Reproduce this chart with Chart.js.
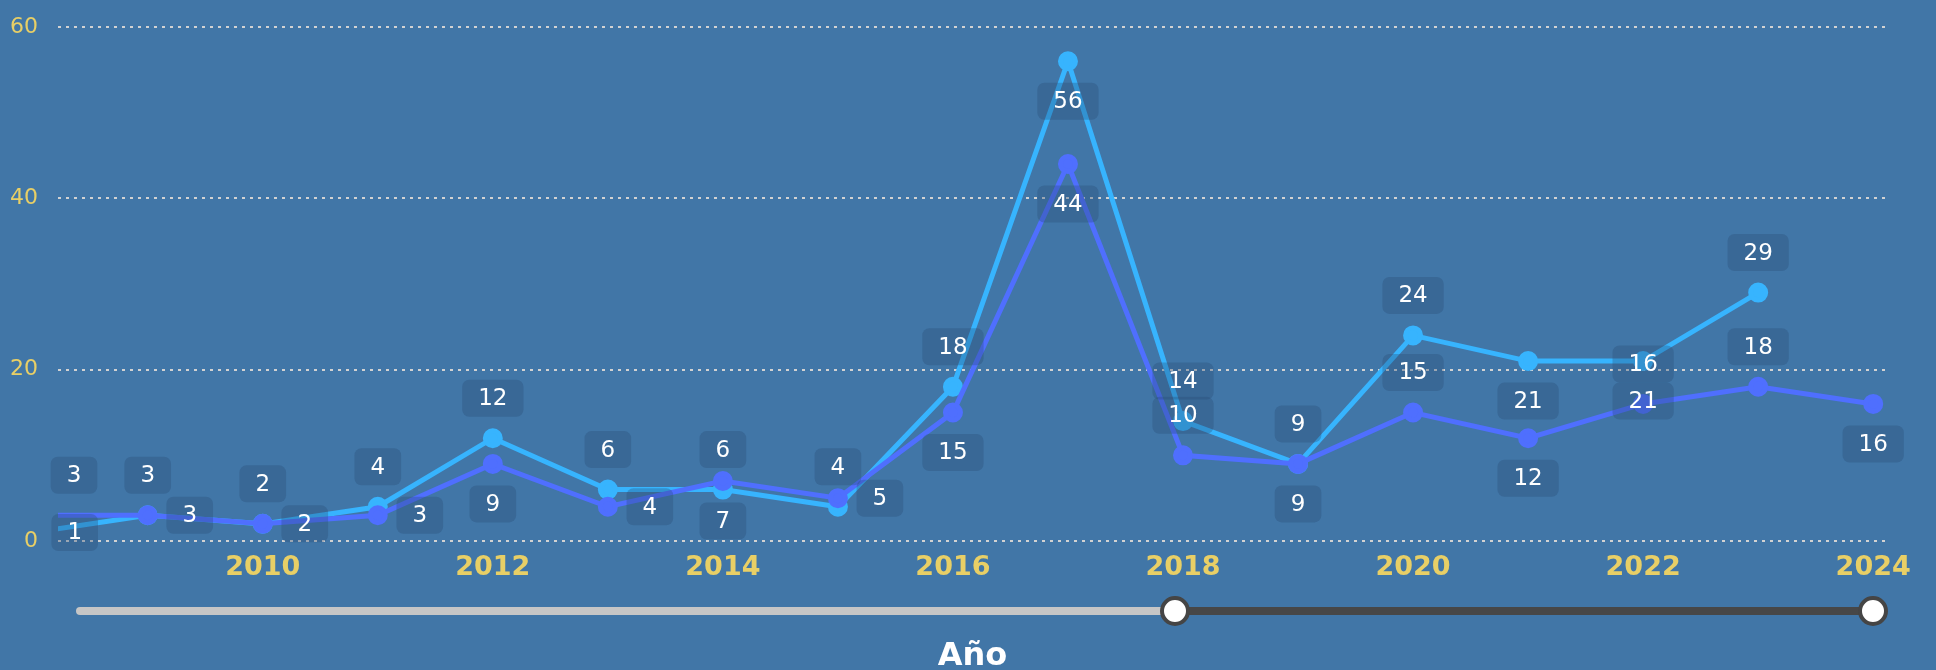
<!DOCTYPE html>
<html lang="es">
<head>
  <meta charset="UTF-8">
  <title>Casos por año</title>
  <script src="https://cdn.jsdelivr.net/npm/chart.js"></script>
  <style>
    html, body { margin: 0; padding: 0; background: #4176a7; }
    #wrap { width: 1936px; height: 670px; position: relative; }
  </style>
</head>
<body>
<div id="wrap"><canvas id="grafico"></canvas></div>
<script>
// datos
const anios = [2008, 2009, 2010, 2011, 2012, 2013, 2014, 2015, 2016, 2017, 2018, 2019, 2020, 2021, 2022, 2023, 2024];
const serieClara = [1, 3, 2, 4, 12, 6, 6, 4, 18, 56, 14, 9, 24, 21, 21, 29, null];
const serieOscura = [3, 3, 2, 3, 9, 4, 7, 5, 15, 44, 10, 9, 15, 12, 16, 18, 16];
const ticksX = [2010, 2012, 2014, 2016, 2018, 2020, 2022, 2024];
const ticksY = [0, 20, 40, 60];

// donde va cada etiqueta: a = arriba, b = abajo, r = derecha
const posClara = ['r','a','a','a','a','a','a','a','a','b','a','a','a','b','b','a', null];
const posOscura = ['a','r','r','r','b','r','b','r','b','b','a','b','a','b','a','a','b'];

const amarillo = '#e8cf66';
const fuente = '"DejaVu Sans", Verdana, sans-serif';

const etiquetas = {
  id: 'etiquetas',
  afterDatasetsDraw(chart) {
    const ctx = chart.ctx;
    const izq = chart.chartArea.left + 16;
    ctx.save();
    ctx.font = '23px ' + fuente;
    ctx.textAlign = 'center';
    ctx.textBaseline = 'middle';
    chart.data.datasets.forEach((ds, di) => {
      const meta = chart.getDatasetMeta(di);
      meta.data.forEach((pt, i) => {
        const v = ds.data[i].y;
        if (v == null) return;
        let x = pt.x, y = pt.y;
        const p = ds.posEtiqueta[i];
        if (p === 'a') y -= 40;
        else if (p === 'b') y += 40;
        else x += 42;
        x = Math.max(x, izq); // no salir por la izquierda
        const txt = String(v);
        const w = ctx.measureText(txt).width + 32, h = 37;
        ctx.fillStyle = 'rgba(40, 75, 115, 0.32)';
        ctx.beginPath();
        ctx.roundRect(x - w / 2, y - h / 2, w, h, 7);
        ctx.fill();
        ctx.fillStyle = '#ffffff';
        ctx.fillText(txt, x, y + 1);
      });
    });
    ctx.restore();
  }
};

// barra deslizante de abajo (solo decorativa)
const deslizador = {
  id: 'deslizador',
  afterDraw(chart) {
    const ctx = chart.ctx;
    const y = 611, x0 = 80, xm = 1175, x1 = 1873;
    ctx.save();
    ctx.lineCap = 'round';
    ctx.lineWidth = 8;
    ctx.strokeStyle = '#c6c6c6';
    ctx.beginPath(); ctx.moveTo(x0, y); ctx.lineTo(xm, y); ctx.stroke();
    ctx.strokeStyle = '#474747';
    ctx.beginPath(); ctx.moveTo(xm, y); ctx.lineTo(x1, y); ctx.stroke();
    [xm, x1].forEach(x => {
      ctx.beginPath();
      ctx.arc(x, y, 13, 0, Math.PI * 2);
      ctx.fillStyle = '#ffffff';
      ctx.fill();
      ctx.lineWidth = 4;
      ctx.strokeStyle = '#454545';
      ctx.stroke();
    });
    ctx.restore();
  }
};

const aPuntos = serie => anios.map((a, i) => ({ x: a, y: serie[i] }));

new Chart(document.getElementById('grafico'), {
  type: 'line',
  data: {
    datasets: [
      {
        label: 'Serie 2',
        data: aPuntos(serieOscura),
        posEtiqueta: posOscura,
        borderColor: '#4f6ffe',
        backgroundColor: '#4f6ffe',
        borderWidth: 5,
        pointRadius: 7.5,
        pointHoverRadius: 7.5,
        tension: 0,
        clip: 0,
        order: 0
      },
      {
        label: 'Serie 1',
        data: aPuntos(serieClara),
        posEtiqueta: posClara,
        borderColor: '#37b4fe',
        backgroundColor: '#37b4fe',
        borderWidth: 5,
        pointRadius: 7.5,
        pointHoverRadius: 7.5,
        tension: 0,
        clip: 0,
        order: 1
      }
    ]
  },
  options: {
    responsive: true,
    maintainAspectRatio: false,
    animation: false,
    layout: { padding: { top: 27, right: 49, bottom: 0, left: 0 } },
    plugins: {
      legend: { display: false },
      tooltip: { enabled: false }
    },
    scales: {
      x: {
        type: 'linear',
        min: 2008.22,
        max: 2024.12,
        afterBuildTicks: s => { s.ticks = ticksX.map(v => ({ value: v })); },
        afterFit: s => { s.height = 129; s.paddingLeft = 0; s.paddingRight = 0; },
        grid: { display: false, drawTicks: false },
        border: { display: false },
        ticks: {
          autoSkip: false,
          maxRotation: 0,
          padding: 11,
          color: amarillo,
          font: { family: fuente, size: 27, weight: 'bold' },
          callback: v => String(v)
        },
        title: {
          display: true,
          text: 'Año',
          color: '#ffffff',
          padding: { top: 0, bottom: -6 },
          font: { family: fuente, size: 32, weight: 'bold' }
        }
      },
      y: {
        min: 0,
        max: 60,
        afterBuildTicks: s => { s.ticks = ticksY.map(v => ({ value: v })); },
        afterFit: s => { s.width = 58; s.paddingTop = 0; s.paddingBottom = 0; },
        grid: {
          color: '#d2d2d2',
          lineWidth: 2,
          drawTicks: false
        },
        border: { display: false, dash: [3, 5] },
        ticks: {
          padding: 20,
          color: amarillo,
          font: { family: fuente, size: 22 }
        }
      }
    }
  },
  plugins: [etiquetas, deslizador]
});
</script>
</body>
</html>
